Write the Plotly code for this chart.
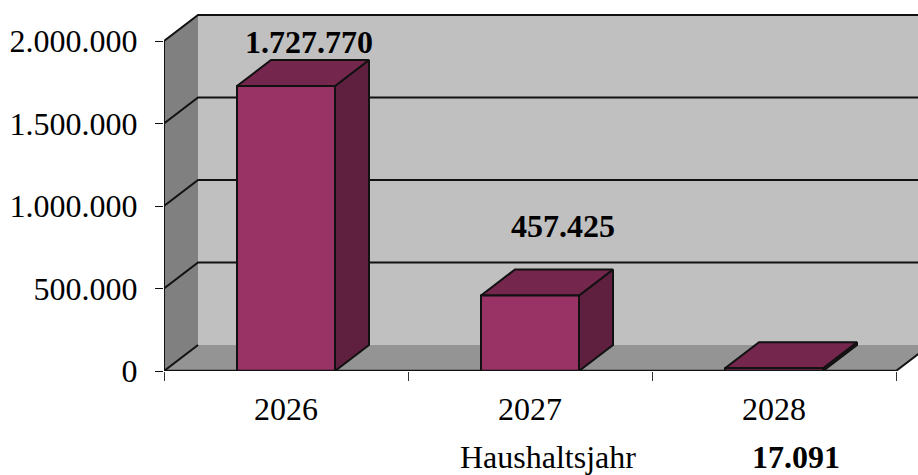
import plotly.graph_objects as go

years = ["2026", "2027", "2028"]
values = [1727770, 457425, 17091]
value_labels = ["1.727.770", "457.425", "17.091"]
y_ticks = [0, 500000, 1000000, 1500000, 2000000]
y_tick_labels = ["0", "500.000", "1.000.000", "1.500.000", "2.000.000"]
axis_title = "Haushaltsjahr"

W, H = 918, 475
L, B = 164, 104
PX_X = 244.0            # pixels per category
PX_Y = 330.0 / 2000000  # pixels per unit
DX = 34 / PX_X          # 3D depth, in axis units
DY = 26 / PX_Y
HALF = 49 / PX_X
X0, X1 = 0.5, 0.5 + (W - L) / PX_X
YTOP = (H - B) / PX_Y
LEFT_END = 0.5
RIGHT_END = 3.5
FONT = "Liberation Serif"
FONT_SIZE = 32

fig = go.Figure()


def face(xs, ys, fill, line="rgba(0,0,0,0)", width=0):
    fig.add_trace(go.Scatter(x=xs + xs[:1], y=ys + ys[:1], mode="lines", fill="toself",
                             fillcolor=fill, line=dict(color=line, width=width),
                             hoverinfo="skip", showlegend=False))


def seg(xs, ys, width=2):
    fig.add_trace(go.Scatter(x=xs, y=ys, mode="lines", line=dict(color="#111111", width=width),
                             hoverinfo="skip", showlegend=False))


top = y_ticks[-1]
# back wall, side wall, floor
face([LEFT_END + DX, X1 + 1, X1 + 1, LEFT_END + DX], [DY, DY, top + DY, top + DY], "#c0c0c0")
face([LEFT_END, LEFT_END + DX, LEFT_END + DX, LEFT_END], [0, DY, top + DY, top], "#808080")
face([LEFT_END, RIGHT_END, RIGHT_END + DX, LEFT_END + DX], [0, 0, DY, DY], "#949494")

# grid lines across side wall and back wall
for t in y_ticks[1:]:
    seg([LEFT_END, LEFT_END + DX, X1 + 1], [t, t + DY, t + DY])
seg([RIGHT_END, RIGHT_END + DX], [0, DY])
seg([LEFT_END, LEFT_END + DX], [0, DY])

# axis lines, stopping at the chart box
seg([LEFT_END, LEFT_END], [0, top])

# bars
for i, v in enumerate(values):
    c = i + 1
    l, r = c - HALF, c + HALF
    face([r, r + DX, r + DX, r], [0, DY, v + DY, v], "#5f1f3e", "#111111", 2)
    face([l, r, r + DX, l + DX], [v, v, v + DY, v + DY], "#74264d", "#111111", 2)
    face([l, r, r, l], [0, 0, v, v], "#993366", "#111111", 2)

seg([LEFT_END, RIGHT_END], [0, 0], 2.5)


def ann(text, px, py, bold=False, size=FONT_SIZE):
    fig.add_annotation(text=f"<b>{text}</b>" if bold else text, xref="paper", yref="paper",
                       x=(px - L) / (W - L), y=1 - py / (H - B), showarrow=False,
                       xanchor="center", yanchor="middle",
                       font=dict(family=FONT, size=size, color="#000000"))


ann(value_labels[0], 309, 42, True)
ann(value_labels[1], 563, 226, True)
ann(value_labels[2], 796, 457, True)
ann(axis_title, 547.5, 457)

fig.update_xaxes(range=[X0, X1], tickmode="array", tickvals=[1, 2, 3], ticktext=years,
                 ticks="", showgrid=False, zeroline=False, showline=False,
                 ticklabelstandoff=16,
                 tickfont=dict(family=FONT, size=FONT_SIZE, color="#000000"),
                 minor=dict(tickmode="array", tickvals=[0.5, 1.5, 2.5, 3.5], ticks="outside",
                            ticklen=9, tickwidth=1, tickcolor="#333333", showgrid=False))
fig.update_yaxes(range=[0, YTOP], tickmode="array", tickvals=y_ticks, ticktext=y_tick_labels,
                 ticks="outside", ticklen=8, tickwidth=1, tickcolor="#111111",
                 showgrid=False, zeroline=False, showline=False, ticklabelstandoff=11,
                 tickfont=dict(family=FONT, size=FONT_SIZE, color="#000000"))
fig.update_layout(width=W, height=H, margin=dict(l=L, r=0, t=0, b=B, autoexpand=False),
                  paper_bgcolor="#ffffff", plot_bgcolor="#ffffff", showlegend=False)

fig.write_html("out.html", post_script="document.body.style.margin='0';",
               config={"displayModeBar": False})
